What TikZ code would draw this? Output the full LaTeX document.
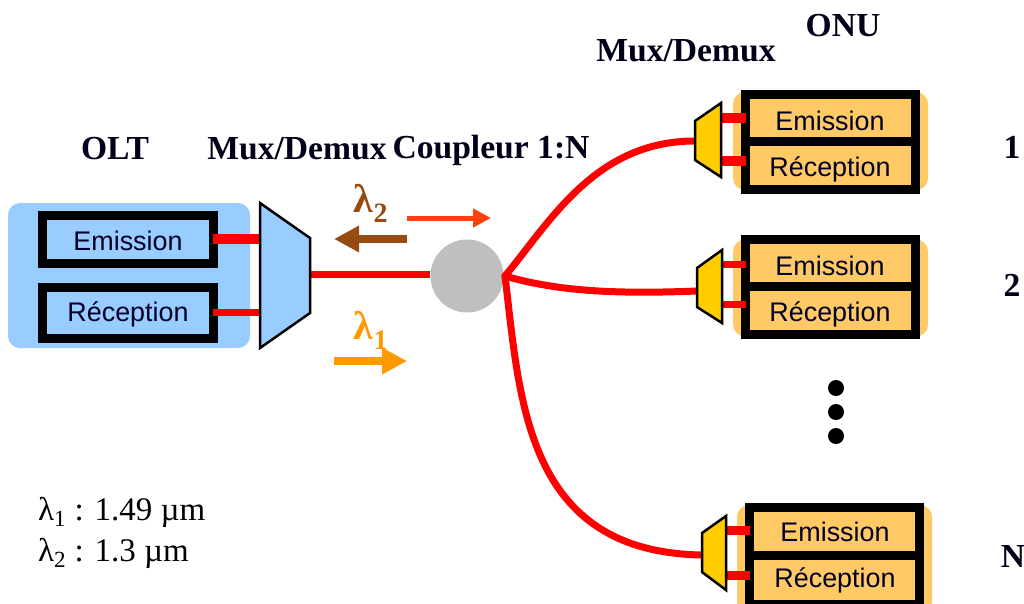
\documentclass[tikz,border=0pt]{standalone}
\usepackage{fontspec}
\setmainfont{Liberation Serif}
\newfontfamily\boxfont{Liberation Sans}
\definecolor{oltblue}{HTML}{99CCFF}
\definecolor{onuorange}{HTML}{FFC966}
\definecolor{muxgold}{HTML}{FFCC00}
\definecolor{lamtwo}{HTML}{964B13}
\definecolor{lamone}{HTML}{FF9900}
\definecolor{fwdred}{HTML}{FF4010}
\definecolor{coupgray}{HTML}{BFBFBF}
\usetikzlibrary{arrows.meta}
\tikzset{
  x=1pt,y=-1pt,
  panel/.style={rounded corners=12pt,inner sep=0pt},
  txbox/.style={draw=black,line width=9pt,inner sep=0pt,outer sep=0pt,minimum width=170pt},
  boxlabel/.style={font=\boxfont\fontsize{26.9}{30}\selectfont,text=black!85!blue,inner sep=0pt},
  muxshape/.style={draw=black,line width=2.5pt,line join=miter},
  fibre/.style={draw=red,line width=7pt,line cap=round},
  stub/.style={draw=red},
  head/.style={font=\bfseries\fontsize{33.6}{36}\selectfont,inner sep=0pt,text=black!90!blue},
  lam/.style={font=\bfseries\fontsize{40}{44}\selectfont,inner sep=0pt},
  note/.style={font=\fontsize{33}{36}\selectfont,inner sep=0pt,anchor=west},
  dotmark/.style={circle,fill=black,inner sep=0pt,minimum size=16pt},
  flow/.style={-{Triangle[length=25pt,width=25pt]},line width=8pt}
}
\newcommand{\lsub}[1]{\textsubscript{#1}}
\begin{document}
\begin{tikzpicture}
\useasboundingbox (0,0) rectangle (1024,603);
\fill[white] (0,0) rectangle (1024,603);
% headings
\node[head] (tolt) at (115,148.5) {OLT};
\node[head] (tmuxa) at (297,148.5) {Mux/Demux};
\node[head] (tcoup) at (491,150) {Coupleur 1:N};
\node[head] (tmuxb) at (686,51) {Mux/Demux};
\node[head] (tonu) at (843,26) {ONU};
\node[head] (tone) at (1012,147.5) {1};
\node[head] (ttwo) at (1012,285.5) {2};
\node[head] (tn) at (1013,556.5) {N};
% panels
\node[panel,fill=oltblue,minimum width=242pt,minimum height=145pt] (oltbg) at (129,275.5) {};
\node[panel,fill=onuorange,minimum width=195pt,minimum height=98pt] (onubga) at (830.5,141) {};
\node[panel,fill=onuorange,minimum width=195pt,minimum height=97pt] (onubgb) at (830.5,288) {};
\node[panel,fill=onuorange,minimum width=195pt,minimum height=110pt] (onubgc) at (834.5,560) {};
% coupler
\node[circle,fill=coupgray,minimum size=73pt,inner sep=0pt] (coup) at (467,276) {};
\coordinate (hub) at (505,276);
% mux vertices
\coordinate (ma1) at (260,203); \coordinate (ma2) at (310,238); \coordinate (ma3) at (310,313); \coordinate (ma4) at (260,348);
\coordinate (mb1) at (721,103); \coordinate (mb2) at (695,121); \coordinate (mb3) at (695,160); \coordinate (mb4) at (721,177);
\coordinate (mc1) at (722,250); \coordinate (mc2) at (697,268); \coordinate (mc3) at (697,307); \coordinate (mc4) at (722,323);
\coordinate (md1) at (726,516); \coordinate (md2) at (702,533); \coordinate (md3) at (702,572); \coordinate (md4) at (726,590);
\coordinate (maout) at (310,274);
\coordinate (mbin) at (695,141); \coordinate (mcin) at (697,291); \coordinate (mdin) at (702,555);
% boxes
\node[txbox,minimum width=171pt,minimum height=48pt] (ema) at (127.5,239) {};
\node[txbox,minimum width=171pt,minimum height=51pt] (rea) at (127.5,312.5) {};
\node[txbox,minimum height=47pt] (emb) at (830.5,118) {};
\node[txbox,minimum height=48pt] (reb) at (830.5,165.5) {};
\node[txbox,minimum height=47pt] (emc) at (830.5,263) {};
\node[txbox,minimum height=48pt] (rec) at (830.5,310.5) {};
\node[txbox,minimum height=48pt] (emd) at (834.5,531) {};
\node[txbox,minimum height=49pt] (red) at (834.5,579.5) {};
\foreach \n/\x/\y/\t in {ema/128/241/Emission,rea/128/314/Réception,emb/830/121/Emission,reb/830/169/Réception,emc/830/266/Emission,rec/830/314/Réception,emd/835/532/Emission,red/835/580/Réception}
  \node[boxlabel] (l\n) at (\x,\y) {\t};
% stubs
\coordinate (sa) at (260,239); \coordinate (sb) at (260,312);
\draw[stub,line width=10pt] (ema.east |- sa) -- (sa);
\draw[stub,line width=7pt] (rea.east |- sb) -- (sb);
\coordinate (sc) at (721,118); \coordinate (sd) at (721,161);
\draw[stub,line width=10pt] (sc) -- (sc -| emb.west);
\draw[stub,line width=10pt] (sd) -- (sd -| reb.west);
\coordinate (se) at (722,264); \coordinate (sf) at (722,304);
\draw[stub,line width=7pt] (se) -- (se -| emc.west);
\draw[stub,line width=7pt] (sf) -- (sf -| rec.west);
\coordinate (sg) at (726,530); \coordinate (sh) at (726,575);
\draw[stub,line width=9pt] (sg) -- (sg -| emd.west);
\draw[stub,line width=9pt] (sh) -- (sh -| red.west);
% fibres
\draw[fibre,line cap=butt] (maout) -- (maout -| coup.west);
\draw[fibre] (hub) .. controls (550,222) and (595,141) .. (mbin);
\draw[fibre] (hub) .. controls (560,292) and (620,294) .. (mcin);
\draw[fibre] (hub) .. controls (520,400) and (525,552) .. (mdin);
% muxes
\draw[muxshape,fill=oltblue] (ma1) -- (ma2) -- (ma3) -- (ma4) -- cycle;
\draw[muxshape,fill=muxgold] (mb1) -- (mb2) -- (mb3) -- (mb4) -- cycle;
\draw[muxshape,fill=muxgold] (mc1) -- (mc2) -- (mc3) -- (mc4) -- cycle;
\draw[muxshape,fill=muxgold] (md1) -- (md2) -- (md3) -- (md4) -- cycle;
% wavelengths
\node[lam,text=lamtwo] (ltwo) at (371,203) {λ\lsub{2}};
\node[lam,text=lamone] (lone) at (371,330) {λ\lsub{1}};
\coordinate (fa) at (407,218); \coordinate (fb) at (491,218);
\draw[fwdred,-{Triangle[length=18pt,width=18pt]},line width=5pt] (fa) -- (fb);
\coordinate (fc) at (407,239); \coordinate (fd) at (334,239);
\draw[lamtwo,flow] (fc) -- (fd);
\coordinate (fe) at (334,361); \coordinate (ff) at (407,361);
\draw[lamone,flow] (fe) -- (ff);
% dots
\node[dotmark] (da) at (836,388) {};
\node[dotmark] (db) at (836,412) {};
\node[dotmark] (dc) at (836,436) {};
% notes
\node[note] (na) at (38,512) {λ\lsub{1} : 1.49 µm};
\node[note] (nb) at (38,553) {λ\lsub{2} : 1.3 µm};
\end{tikzpicture}
\end{document}
